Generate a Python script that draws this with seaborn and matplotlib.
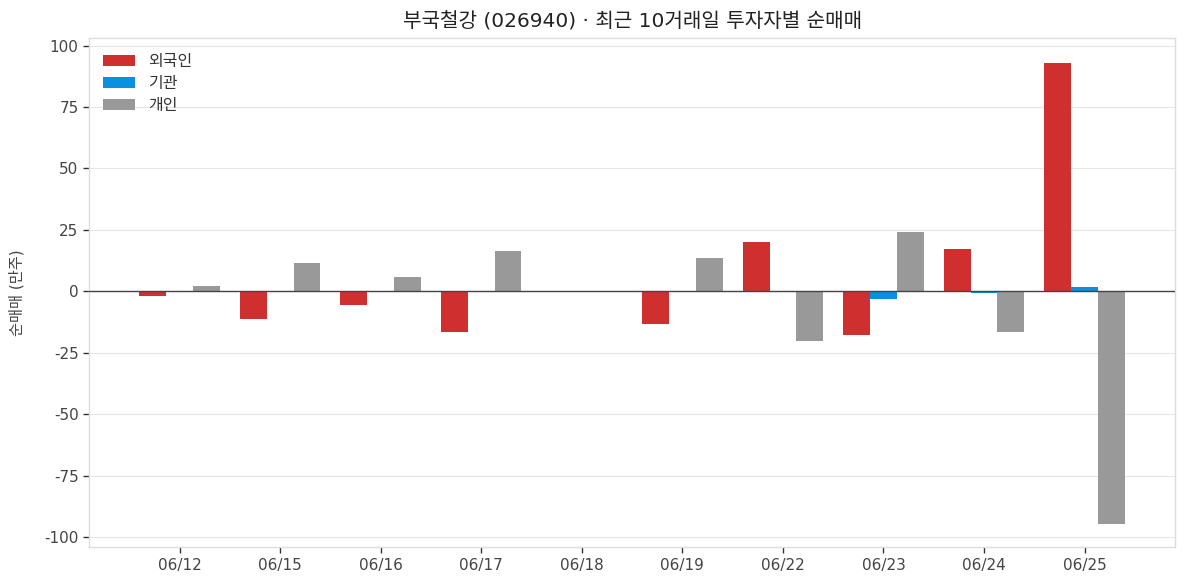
import matplotlib
matplotlib.use("Agg")
import matplotlib.pyplot as plt
import seaborn as sns
import pandas as pd

dates = ["06/12", "06/15", "06/16", "06/17", "06/18", "06/19", "06/22", "06/23", "06/24", "06/25"]
foreign = [-2.0, -11.4, -5.7, -16.6, 0.0, -13.4, 19.9, -17.8, 17.4, 93.0]
institution = [0.0, 0.0, 0.0, 0.0, 0.0, 0.0, 0.0, -3.2, -0.5, 1.6]
individual = [2.0, 11.4, 5.7, 16.6, 0.0, 13.4, -20.3, 24.3, -16.6, -94.8]
series_names = ["외국인", "기관", "개인"]
colors = ["#CF2F2F", "#0A90E0", "#999999"]

rows = []
for name, vals in zip(series_names, [foreign, institution, individual]):
    for d, v in zip(dates, vals):
        rows.append({"date": d, "investor": name, "value": v})
df = pd.DataFrame(rows)

sns.set_theme(style="white")
plt.rcParams['font.family'] = ['DejaVu Sans', 'Noto Sans CJK KR']
plt.rcParams['axes.unicode_minus'] = False

fig, ax = plt.subplots(figsize=(11.87, 5.87), dpi=100)
sns.barplot(data=df, x="date", y="value", hue="investor", order=dates,
            hue_order=series_names, palette=colors, width=0.8, ax=ax,
            errorbar=None, saturation=1, linewidth=0)

ax.axhline(0, color="#444444", linewidth=1.0, zorder=3)
ax.set_ylim(-104, 103)
ax.set_xlim(-0.9, 9.9)
ax.set_yticks([-100, -75, -50, -25, 0, 25, 50, 75, 100])
ax.yaxis.grid(True, color="#e6e6e6", linewidth=0.8)
ax.set_axisbelow(True)
for s in ax.spines.values():
    s.set_color("#dddddd")
    s.set_linewidth(1.0)
ax.tick_params(axis="both", which="both", length=4, width=1, color="#333333",
               labelsize=11, labelcolor="#444444", direction="out", bottom=True, left=True)
ax.set_xlabel("")
ax.set_ylabel("순매매 (만주)", fontsize=11, color="#444444", labelpad=14)
ax.set_title("부국철강 (026940) · 최근 10거래일 투자자별 순매매", fontsize=14.5, color="#222222", pad=8)
leg = ax.legend(loc="upper left", frameon=False, fontsize=11.5, handlelength=2.0,
                handleheight=0.7, labelspacing=0.45, bbox_to_anchor=(0.0, 0.997))
for t in leg.get_texts():
    t.set_color("#333333")

fig.subplots_adjust(left=0.075, right=0.99, top=0.935, bottom=0.068)
fig.savefig("out.png", dpi=100)
